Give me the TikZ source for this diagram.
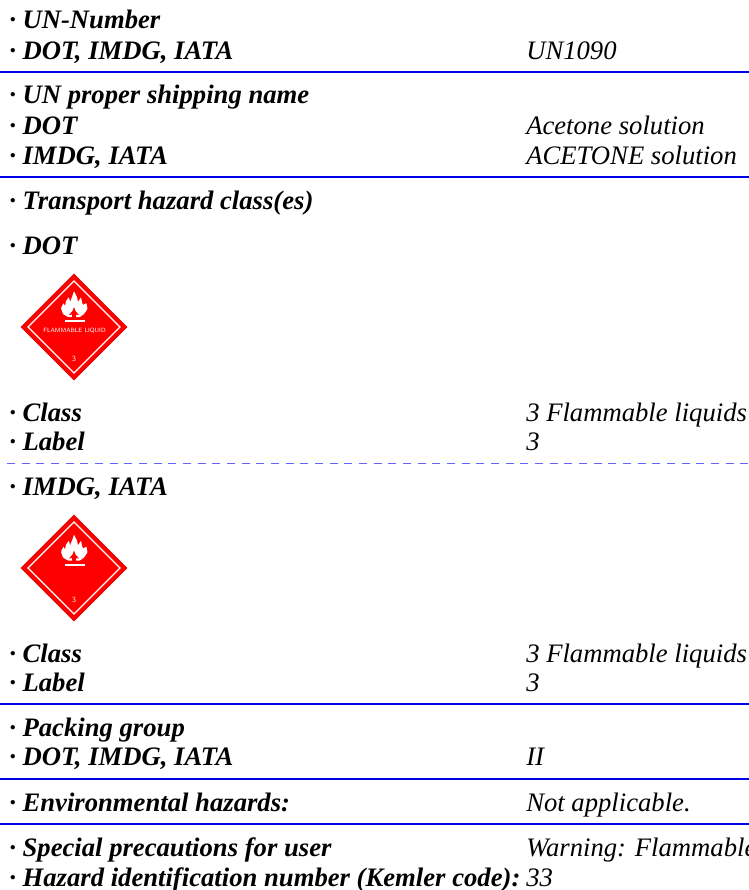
\documentclass[tikz,border=0pt]{standalone}
\usepackage{fontspec}
\setmainfont{Liberation Serif}
\definecolor{rulec}{RGB}{0,0,230}
\definecolor{dashc}{RGB}{100,100,250}
\definecolor{hazred}{RGB}{255,0,0}
\tikzset{
  lab/.style={anchor=base west,inner sep=0pt,font=\fontsize{20}{24}\selectfont\bfseries\itshape},
  val/.style={anchor=base west,inner sep=0pt,font=\fontsize{20}{24}\selectfont\itshape},
  sep/.style={draw=rulec,line width=1.1pt},
  dsep/.style={draw=dashc,line width=1.1pt,dash pattern=on 6pt off 5pt},
  hazsmall/.style={inner sep=0pt,text=white,font=\fontsize{4.6}{6}\sffamily},
  hazdigit/.style={inner sep=0pt,text=white!90!red,font=\fontsize{6}{7}\sffamily},
  flame/.pic={
    \fill[white,rounded corners=0.5pt] (0,-15) -- (3,-9) -- (4,-4) -- (7,-9) -- (8,-4) -- (9,-1) -- (12.5,-3)
      -- (13.5,3) -- (10,8) -- (6,11) -- (-6,11) -- (-11,8) -- (-13,2) -- (-10.5,-3) -- (-9,0)
      -- (-8,-5) -- (-5,-9) -- (-4,-4) -- (-2,-9) -- cycle;
    \fill[hazred] (0,1) -- (-1.5,5) -- (-5,9) -- (-2,8.5) -- (-2,11.5) -- (2,11.5) -- (2,8.5) -- (5,9) -- (1.5,5) -- cycle;
    \fill[white] (-9,14) rectangle (11,16);
  },
  haz/.style={fill=hazred,draw=hazred!85!black,line width=0.3pt},
  hazin/.style={draw=white,line width=0.9pt}
}
\begin{document}
\begin{tikzpicture}[x=0.75pt,y=-0.75pt]
\useasboundingbox (0,0) rectangle (749,890);
\clip (0,0) rectangle (749,890);
\fill[white] (0,0) rectangle (749,890);

\node[lab] (a1) at (9,28) {· UN-Number};
\node[lab] (a2) at (9,59) {· DOT, IMDG, IATA};
\node[val] (a3) at (526,59) {UN1090};
\draw[sep] (0,72) -- (749,72);

\node[lab] (b1) at (9,103) {· UN proper shipping name};
\node[lab] (b2) at (9,134) {· DOT};
\node[val] (b3) at (526,134) {Acetone solution};
\node[lab] (b4) at (9,164) {· IMDG, IATA};
\node[val] (b5) at (526,164) {ACETONE solution};
\draw[sep] (0,177) -- (749,177);

\node[lab] (c1) at (9,209) {· Transport hazard class(es)};
\node[lab] (c2) at (9,254) {· DOT};

\fill[haz] (74,274) -- (127,327) -- (74,380) -- (21,327) -- cycle;
\draw[hazin] (74,281) -- (120,327) -- (74,373) -- (28,327) -- cycle;
\pic at (74,306) {flame};
\node[hazsmall] (d1) at (74.5,331) {FLAMMABLE LIQUID};
\node[hazdigit] (d2) at (74,359) {3};

\node[lab] (e1) at (9,421) {· Class};
\node[val] (e2) at (526,421) {3 Flammable liquids};
\node[lab] (e3) at (9,450) {· Label};
\node[val] (e4) at (526,450) {3};
\draw[dsep] (7,463.5) -- (749,463.5);

\node[lab] (f1) at (9,495) {· IMDG, IATA};

\fill[haz] (74,515) -- (127,568) -- (74,621) -- (21,568) -- cycle;
\draw[hazin] (74,522) -- (120,568) -- (74,614) -- (28,568) -- cycle;
\pic at (74,549.5) {flame};
\node[hazdigit] (g2) at (74,600) {3};

\node[lab] (h1) at (9,662) {· Class};
\node[val] (h2) at (526,662) {3 Flammable liquids};
\node[lab] (h3) at (9,691) {· Label};
\node[val] (h4) at (526,691) {3};
\draw[sep] (0,704) -- (749,704);

\node[lab] (i1) at (9,736) {· Packing group};
\node[lab] (i2) at (9,765) {· DOT, IMDG, IATA};
\node[val] (i3) at (526,765) {II};
\draw[sep] (0,779) -- (749,779);

\node[lab] (j1) at (9,811) {· Environmental hazards:};
\node[val] (j2) at (526,811) {Not applicable.};
\draw[sep] (0,824) -- (749,824);

\node[lab] (k1) at (9,856) {· Special precautions for user};
\node[val] (k2) at (526,856) {Warning: Flammable};
\node[lab] (k3) at (9,886) {· Hazard identification number (Kemler code):};
\node[val] (k4) at (526,886) {33};
\end{tikzpicture}
\end{document}
